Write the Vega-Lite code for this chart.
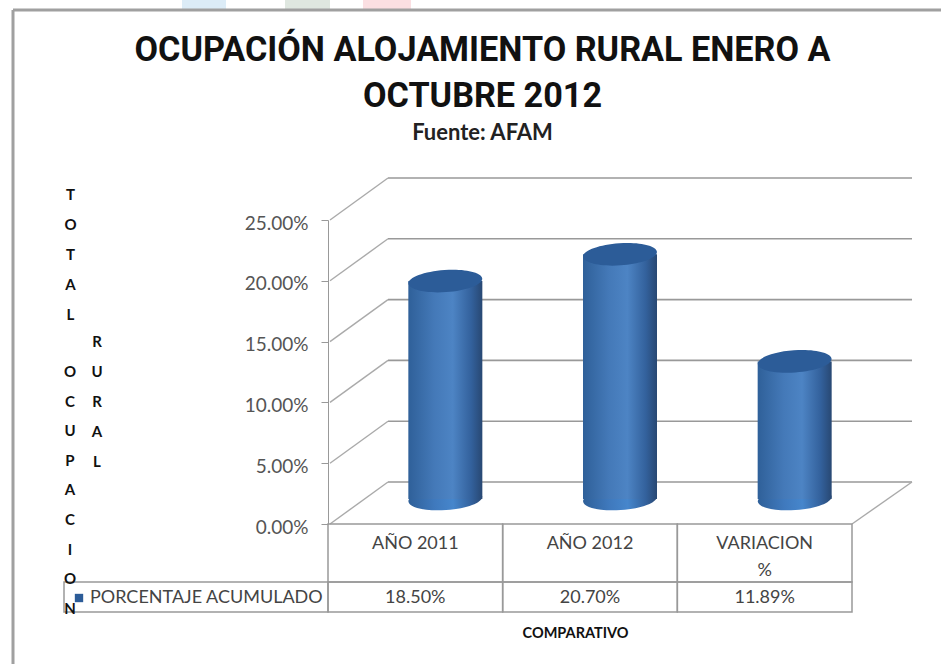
{
"$schema":"https://vega.github.io/schema/vega-lite/v6.json",
"width":941,"height":664,"padding":0,"autosize":{"type":"none"},"background":"white",
"config":{"view":{"stroke":null},"font":"Lato"},
"title":{"text":["OCUPACIÓN ALOJAMIENTO RURAL ENERO A","OCTUBRE 2012"],"subtitle":"Fuente: AFAM","anchor":"middle","frame":"group","dx":12,"offset":-144,"font":"Roboto","fontSize":34.2,"fontWeight":"bold","color":"#111111","lineHeight":45.5,"subtitleFont":"Lato","subtitleFontSize":22,"subtitleFontWeight":"bold","subtitleColor":"#222222","subtitlePadding":9},
"datasets":{
"cats":[{"label":"AÑO 2011","value":0.185,"serie":"PORCENTAJE ACUMULADO"},{"label":"AÑO 2012","value":0.207,"serie":"PORCENTAJE ACUMULADO"},{"label":"VARIACION %","value":0.1189,"serie":"PORCENTAJE ACUMULADO"}],
"ticks":[{"tick":0},{"tick":0.05},{"tick":0.1},{"tick":0.15},{"tick":0.2},{"tick":0.25}],
"one":[{"t":"R\nU\nR\nA\nL"}],
"ocup":[{"t":"O\nC\nU\nP\nA\nC\nI\nO\nN"}]
},
"layer":[
{"data":{"name":"one"},"mark":{"type":"rect","fill":"#dcecf7"},"encoding":{"x":{"value":182},"x2":{"value":226},"y":{"value":0},"y2":{"value":9}}},
{"data":{"name":"one"},"mark":{"type":"rect","fill":"#dfe7e0"},"encoding":{"x":{"value":285},"x2":{"value":330},"y":{"value":0},"y2":{"value":9}}},
{"data":{"name":"one"},"mark":{"type":"rect","fill":"#fbdfe2"},"encoding":{"x":{"value":363},"x2":{"value":411},"y":{"value":0},"y2":{"value":9}}},
{"data":{"name":"one"},"mark":{"type":"rule","color":"#a0a0a0","strokeWidth":3},"encoding":{"x":{"value":13},"y":{"value":10},"y2":{"value":664}}},
{"data":{"name":"one"},"mark":{"type":"rule","color":"#a0a0a0","strokeWidth":3},"encoding":{"x":{"value":13},"x2":{"value":941},"y":{"value":10}}},
{"data":{"name":"ticks"},"mark":{"type":"rule","color":"#999999","strokeWidth":1.6,"yOffset":-42},"encoding":{"x":{"value":388},"x2":{"value":912},"y":{"field":"tick","type":"quantitative","scale":{"domain":[0,0.25],"range":[524,220],"nice":false},"axis":{"orient":"left","offset":-328,"format":".2%","values":[0,0.05,0.1,0.15,0.2,0.25],"grid":false,"domain":true,"domainColor":"#999999","tickColor":"#999999","tickSize":7,"labelPadding":13,"labelOffset":3,"labelFont":"Lato","labelFontSize":19,"labelColor":"#555555","title":["T","O","T","A","L"],"titleAngle":0,"titleAlign":"center","titleBaseline":"alphabetic","titleX":-258,"titleY":199,"titleFont":"Lato","titleFontSize":15,"titleFontWeight":"bold","titleColor":"#111111","titleLineHeight":30}}}},
{"data":{"name":"ticks"},"mark":{"type":"rule","color":"#aaaaaa","strokeWidth":1.4,"y2Offset":-42},"encoding":{"x":{"value":330},"x2":{"value":388},"y":{"field":"tick","type":"quantitative"},"y2":{"field":"tick"}}},
{"data":{"name":"one"},"mark":{"type":"rule","color":"#aaaaaa","strokeWidth":1.4,"y2Offset":-42},"encoding":{"x":{"value":852},"x2":{"value":912},"y":{"datum":0,"type":"quantitative"},"y2":{"datum":0}}},
{"data":{"name":"cats"},"mark":{"type":"rect","fill":"transparent","stroke":"#999999","strokeWidth":1.5},"encoding":{"x":{"field":"label","type":"nominal","sort":null,"scale":{"range":[328,852],"paddingInner":0,"paddingOuter":0},"axis":{"orient":"bottom","offset":-140,"domain":false,"ticks":false,"labelAngle":0,"labelPadding":10,"labelFont":"Lato","labelFontSize":18,"labelColor":"#444444","labelLineHeight":27,"labelExpr":"datum.label == 'VARIACION %' ? ['VARIACION','%'] : datum.label","labelBaseline":"top","title":"COMPARATIVO","titleX":575,"titleY":113,"titleBaseline":"alphabetic","titleFont":"Lato","titleFontSize":14.5,"titleFontWeight":"bold","titleColor":"#111111"}},"y":{"value":524},"y2":{"value":582}}},
{"data":{"name":"cats"},"mark":{"type":"rect","fill":"transparent","stroke":"#999999","strokeWidth":1.5},"encoding":{"x":{"field":"label","type":"nominal","sort":null},"y":{"value":582},"y2":{"value":612}}},
{"data":{"name":"one"},"mark":{"type":"rect","fill":"transparent","stroke":"#999999","strokeWidth":1.5},"encoding":{"x":{"value":64},"x2":{"value":328},"y":{"value":582},"y2":{"value":612}}},
{"data":{"name":"cats"},"mark":{"type":"point","filled":true,"opacity":1,"shape":"M-1,0A1,0.3,0,1,1,1,0A1,0.3,0,1,1,-1,0Z","size":5476,"angle":-4,"xOffset":30,"yOffset":-25,"fill":{"x1":0,"x2":1,"y1":0,"y2":0,"gradient":"linear","stops":[{"offset":0,"color":"#2f6099"},{"offset":0.35,"color":"#3f79bd"},{"offset":0.6,"color":"#4686cc"},{"offset":0.85,"color":"#33619c"},{"offset":1,"color":"#284873"}]}},"encoding":{"x":{"field":"label","type":"nominal","sort":null},"y":{"datum":0,"type":"quantitative"}}},
{"data":{"name":"cats"},"mark":{"type":"bar","size":74,"xOffset":30,"yOffset":-18,"y2Offset":-25,"fill":{"x1":0,"x2":1,"y1":0,"y2":0,"gradient":"linear","stops":[{"offset":0,"color":"#2f6099"},{"offset":0.35,"color":"#4479b8"},{"offset":0.6,"color":"#4d84c4"},{"offset":0.85,"color":"#33619c"},{"offset":1,"color":"#284873"}]}},"encoding":{"x":{"field":"label","type":"nominal","sort":null},"y":{"field":"value","type":"quantitative"},"y2":{"datum":0}}},
{"data":{"name":"cats"},"mark":{"type":"point","filled":true,"opacity":1,"shape":"M-1,0A1,0.3,0,1,1,1,0A1,0.3,0,1,1,-1,0Z","size":5476,"angle":-4,"xOffset":30,"yOffset":-18},"encoding":{"x":{"field":"label","type":"nominal","sort":null},"y":{"field":"value","type":"quantitative"},"color":{"field":"serie","type":"nominal","scale":{"range":["#2c5c98"]},"legend":{"orient":"none","legendX":70,"legendY":589,"title":null,"symbolType":"square","symbolSize":70,"labelFont":"Lato","labelFontSize":18,"labelColor":"#444444","labelOffset":2,"labelLimit":260}}}},
{"data":{"name":"cats"},"mark":{"type":"text","font":"Lato","fontSize":18,"color":"#444444","baseline":"middle"},"encoding":{"x":{"field":"label","type":"nominal","sort":null},"y":{"value":598},"text":{"field":"value","type":"quantitative","format":".2%"}}},
{"data":{"name":"ocup"},"mark":{"type":"text","font":"Lato","fontSize":15,"fontWeight":"bold","color":"#111111","lineBreak":"\n","lineHeight":29.6,"align":"center","baseline":"middle"},"encoding":{"x":{"value":70},"y":{"value":372},"text":{"field":"t","type":"nominal"}}},
{"data":{"name":"one"},"mark":{"type":"text","font":"Lato","fontSize":15,"fontWeight":"bold","color":"#111111","lineBreak":"\n","lineHeight":30,"align":"center","baseline":"middle"},"encoding":{"x":{"value":97},"y":{"value":342},"text":{"field":"t","type":"nominal"}}}
]
}
